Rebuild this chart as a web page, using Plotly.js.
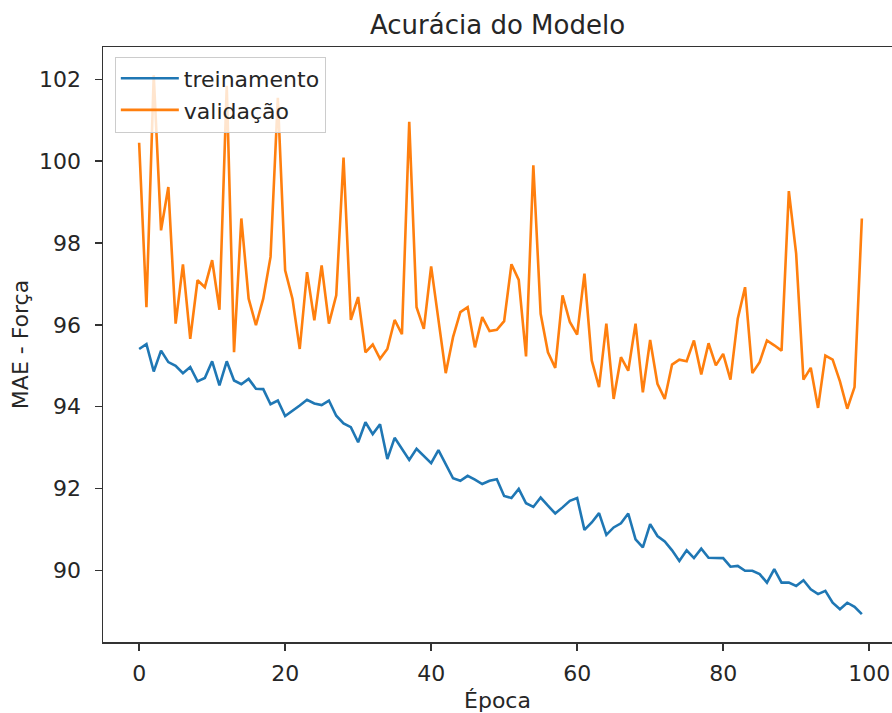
<!DOCTYPE html>
<html>
<head>
<meta charset="utf-8">
<script src="https://cdn.plot.ly/plotly-3.0.1.min.js"></script>
<style>html,body{margin:0;padding:0;background:#fff;}#chart{width:892px;height:713px;}</style>
</head>
<body>
<div id="chart"></div>
<script>
const epochs = Array.from({length: 100}, (_, i) => i);

const treinamento = [
  95.41, 95.53, 94.86, 95.37, 95.09, 95.00, 94.82, 94.97, 94.62, 94.70,
  95.11, 94.52, 95.11, 94.64, 94.55, 94.68, 94.44, 94.43, 94.06, 94.15,
  93.77, 93.89, 94.03, 94.17, 94.08, 94.04, 94.15, 93.78, 93.59, 93.50,
  93.13, 93.62, 93.33, 93.57, 92.72, 93.24, 92.97, 92.70, 92.97, 92.80,
  92.62, 92.94, 92.60, 92.25, 92.19, 92.31, 92.22, 92.11, 92.19, 92.23,
  91.82, 91.77, 91.99, 91.64, 91.55, 91.78, 91.58, 91.39, 91.54, 91.70,
  91.77, 90.99, 91.17, 91.40, 90.87, 91.05, 91.15, 91.39, 90.76, 90.56,
  91.13, 90.84, 90.71, 90.49, 90.23, 90.49, 90.30, 90.53, 90.31, 90.30,
  90.30, 90.09, 90.11, 89.99, 89.99, 89.91, 89.70, 90.03, 89.70, 89.70,
  89.62, 89.76, 89.54, 89.42, 89.50, 89.21, 89.05, 89.21, 89.11, 88.93
];

const validacao = [
  100.45, 96.43, 102.10, 98.31, 99.37, 96.03, 97.48, 95.66, 97.09, 96.92,
  97.58, 96.37, 101.84, 95.33, 98.60, 96.64, 95.99, 96.64, 97.66, 101.55,
  97.33, 96.64, 95.41, 97.29, 96.11, 97.45, 96.03, 96.72, 100.09, 96.12,
  96.68, 95.33, 95.52, 95.17, 95.41, 96.12, 95.77, 100.96, 96.43, 95.90,
  97.43, 96.11, 94.82, 95.70, 96.31, 96.43, 95.45, 96.19, 95.85, 95.88,
  96.09, 97.48, 97.10, 95.23, 99.90, 96.27, 95.33, 94.95, 96.72, 96.07,
  95.76, 97.25, 95.13, 94.48, 96.03, 94.19, 95.21, 94.88, 96.03, 94.35,
  95.63, 94.56, 94.19, 95.03, 95.15, 95.11, 95.62, 94.79, 95.55, 95.01,
  95.29, 94.66, 96.15, 96.92, 94.82, 95.09, 95.62, 95.50, 95.37, 99.27,
  97.74, 94.66, 94.95, 93.97, 95.25, 95.15, 94.62, 93.95, 94.48, 98.60
];

const xTicks = [0, 20, 40, 60, 80, 100];
const yTicks = [90, 92, 94, 96, 98, 100, 102];

const font = {family: 'DejaVu Sans, sans-serif', size: 22, color: '#262626'};

const traces = [
  {x: epochs, y: treinamento, type: 'scatter', mode: 'lines', name: 'treinamento',
   line: {color: '#1f77b4', width: 2.6}},
  {x: epochs, y: validacao, type: 'scatter', mode: 'lines', name: 'validação',
   line: {color: '#ff7f0e', width: 2.6}}
];

const layout = {
  width: 892, height: 713,
  margin: {l: 103, r: 0, t: 47, b: 71, pad: 0},
  paper_bgcolor: '#ffffff', plot_bgcolor: '#ffffff',
  font: font,
  showlegend: true,
  title: {text: 'Acurácia do Modelo', font: {family: font.family, size: 26, color: '#262626'},
          xref: 'paper', x: 0.5, xanchor: 'center', yref: 'container', y: 1 - 25/713, yanchor: 'middle'},
  xaxis: {
    range: [-4.95, 103.13], tickvals: xTicks, ticktext: xTicks.map(String),
    showgrid: false, zeroline: false, showline: true, mirror: true,
    linecolor: '#333', linewidth: 1.5, ticks: 'outside', ticklen: 7, tickwidth: 1.5, tickcolor: '#333',
    tickfont: font, ticklabelstandoff: 4,
    title: {text: 'Época', font: font, standoff: 8}
  },
  yaxis: {
    range: [88.25, 102.79], tickvals: yTicks, ticktext: yTicks.map(String),
    showgrid: false, zeroline: false, showline: true, mirror: false,
    linecolor: '#333', linewidth: 1.5, ticks: 'outside', ticklen: 7, tickwidth: 1.5, tickcolor: '#333',
    tickfont: font, ticklabelstandoff: 9,
    title: {text: 'MAE - Força', font: font, standoff: 4}
  },
  legend: {
    x: 0.015, y: 0.984, xanchor: 'left', yanchor: 'top',
    bgcolor: 'rgba(255,255,255,0.8)', bordercolor: '#cccccc', borderwidth: 1,
    font: font, tracegroupgap: 0, itemwidth: 58
  }
};

Plotly.newPlot('chart', traces, layout, {displayModeBar: false, staticPlot: true});
</script>
</body>
</html>
